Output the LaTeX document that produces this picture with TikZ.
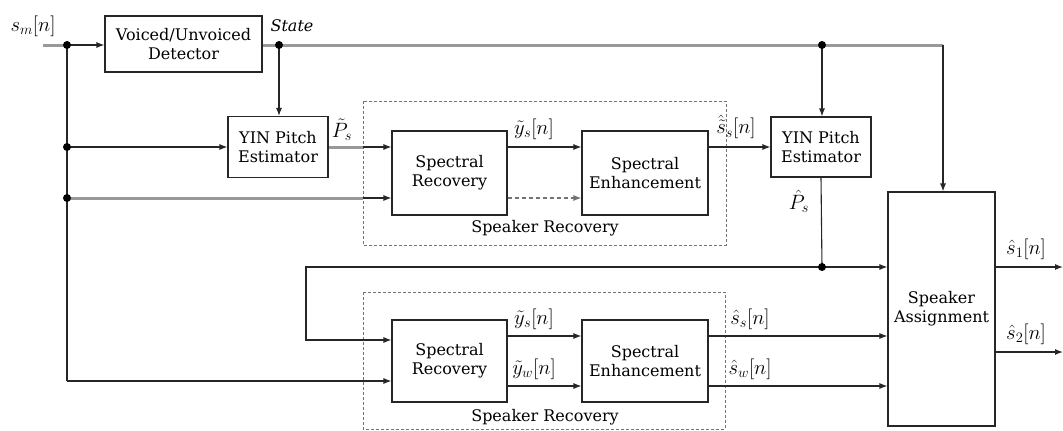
\documentclass[tikz,border=0pt]{standalone}
\usepackage{fontspec}
\setmainfont{DejaVu Serif}
\usetikzlibrary{arrows.meta,calc}
\begin{document}
\begin{tikzpicture}[x=1pt,y=-1pt,
  box/.style={draw=black!85,line width=1.1pt,align=center,inner sep=2pt,
    font=\fontsize{16}{19}\selectfont},
  dbox/.style={draw=black!55,line width=0.9pt,dash pattern=on 3pt off 2pt},
  wire/.style={draw=black!85,line width=1.1pt},
  bus/.style={draw=black!40,line width=3pt},
  arr/.style={-{Latex[length=8pt,width=6pt]}},
  lab/.style={font=\fontsize{21}{24}\selectfont,inner sep=0pt},
  txt/.style={font=\fontsize{16}{19}\selectfont,inner sep=0pt},
  dot/.style={fill=black}]
\useasboundingbox (0,0) rectangle (1063,431);

% group frames
\coordinate (g1a) at (363,101);
\coordinate (g1b) at (726,245);
\coordinate (g2a) at (363,292);
\coordinate (g2b) at (725,429);
\draw[dbox] (g1a) rectangle (g1b);
\draw[dbox] (g2a) rectangle (g2b);

% blocks
\node[box,minimum width=157pt,minimum height=56pt] (vud) at (183.5,44) {Voiced/Unvoiced\\Detector};
\node[box,minimum width=100pt,minimum height=61pt] (yin1) at (278,147) {YIN Pitch\\Estimator};
\node[box,minimum width=115pt,minimum height=84pt] (sr1) at (449.5,173) {Spectral\\Recovery};
\node[box,minimum width=126pt,minimum height=84pt] (se1) at (645,173) {Spectral\\Enhancement};
\node[box,minimum width=100pt,minimum height=60pt] (yin2) at (821,147) {YIN Pitch\\Estimator};
\node[box,minimum width=115pt,minimum height=82pt] (sr2) at (449.5,361) {Spectral\\Recovery};
\node[box,minimum width=126pt,minimum height=82pt] (se2) at (645,361) {Spectral\\Enhancement};
\node[box,minimum width=107pt,minimum height=234pt] (sa) at (941.5,309) {Speaker\\Assignment};
\node[txt] (g1l) at (545,228) {Speaker Recovery};
\node[txt] (g2l) at (545,417) {Speaker Recovery};

% junctions
\coordinate (in0) at (43,45);
\coordinate (j1) at (67,45);
\coordinate (j2) at (67,147);
\coordinate (j3) at (67,198);
\coordinate (j4) at (67,381);
\coordinate (st1) at (279,45);
\coordinate (st2) at (822,45);
\coordinate (st3) at (943,45);
\coordinate (p2) at (822,267);
\coordinate (fb1) at (306,267);
\coordinate (fb2) at (306,340);
\coordinate (o1) at (1063,267);
\coordinate (o2) at (1063,352);
\coordinate (r336) at (0,336);
\coordinate (r386) at (0,386);

% connectors
\draw[bus] (in0) -- (j1);
\draw[wire,arr] (j1) -- (vud.west |- j1);
\draw[bus] (vud.east |- st1) -- (st3);
\draw[wire,arr] (st3) -- (st3 |- sa.north);
\draw[wire,arr] (st1) -- (st1 |- yin1.north);
\draw[wire,arr] (st2) -- (st2 |- yin2.north);
\draw[wire] (j1) -- (j4);
\draw[wire,arr] (j2) -- (yin1.west |- j2);
\draw[bus] (yin1.east |- j2) -- (g1a |- j2);
\draw[wire,arr] (g1a |- j2) -- (sr1.west |- j2);
\draw[bus] (j3) -- (g1a |- j3);
\draw[wire,arr] (g1a |- j3) -- (sr1.west |- j3);
\draw[wire,arr] (sr1.east |- j2) -- (se1.west |- j2);
\draw[wire,draw=black!55,arr,dash pattern=on 4pt off 3pt] (sr1.east |- j3) -- (se1.west |- j3);
\draw[wire,arr] (se1.east |- j2) -- (yin2.west |- j2);
\draw[wire] (yin2.south) -- (p2);
\draw[wire,arr] (p2) -- (sa.west |- p2);
\draw[wire,arr] (p2) -- (fb1) -- (fb2) -- (sr2.west |- fb2);
\draw[wire,arr] (j4) -- (sr2.west |- j4);
\draw[wire,arr] (sr2.east |- r336) -- (se2.west |- r336);
\draw[wire,arr] (sr2.east |- r386) -- (se2.west |- r386);
\draw[wire,arr] (se2.east |- r336) -- (sa.west |- r336);
\draw[wire,arr] (se2.east |- r386) -- (sa.west |- r386);
\draw[wire,arr] (sa.east |- o1) -- (o1);
\draw[wire,arr] (sa.east |- o2) -- (o2);

\foreach \p in {j1,j2,j3,st1,st2,p2} \fill[dot] (\p) circle (4pt);

% labels
\node[lab] (lin) at (33,26) {$s_m[n]$};
\node[txt,font=\fontsize{16}{19}\selectfont\itshape] (lst) at (292,26) {State};
\node[lab] (lp1) at (342,130) {$\tilde{P}_s$};
\node[lab] (ly1) at (534,129) {$\tilde{y}_s[n]$};
\node[lab] (ls1) at (736,127) {$\hat{\tilde{s}}_s[n]$};
\node[lab] (lp2) at (799,201) {$\hat{P}_s$};
\node[lab] (ly2) at (534,319) {$\tilde{y}_s[n]$};
\node[lab] (ly3) at (534,369) {$\tilde{y}_w[n]$};
\node[lab] (ls2) at (750,319) {$\hat{s}_s[n]$};
\node[lab] (ls3) at (750,369) {$\hat{s}_w[n]$};
\node[lab] (lo1) at (1026,249) {$\hat{s}_1[n]$};
\node[lab] (lo2) at (1026,334) {$\hat{s}_2[n]$};
\end{tikzpicture}
\end{document}
